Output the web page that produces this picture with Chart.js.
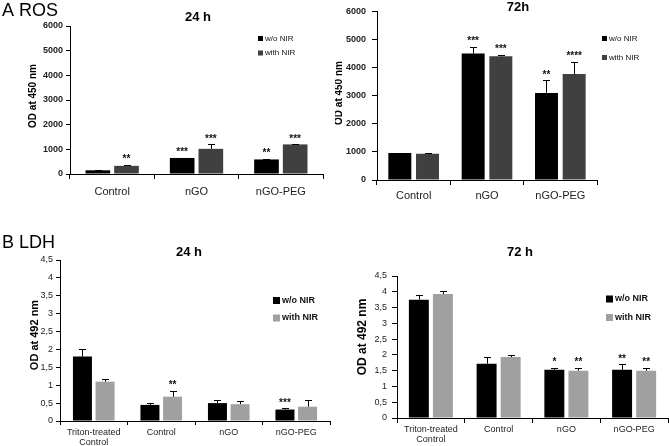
<!DOCTYPE html>
<html><head><meta charset="utf-8">
<script src="https://cdn.jsdelivr.net/npm/chart.js@4/dist/chart.umd.min.js"></script>
<style>
html,body{margin:0;padding:0;background:#fff}
body{width:669px;height:446px;position:relative;overflow:hidden}
canvas{position:absolute}
</style></head><body>
<canvas id="a24" width="335" height="205" style="left:0;top:0"></canvas>
<canvas id="a72" width="334" height="205" style="left:335px;top:0"></canvas>
<canvas id="b24" width="335" height="241" style="left:0;top:205px"></canvas>
<canvas id="b72" width="334" height="241" style="left:335px;top:205px"></canvas>
<script>
// ---------- data ----------
const seriesNames = ['w/o NIR', 'with NIR'];

const rosCategories = ['Control', 'nGO', 'nGO-PEG'];
const rosTickLabels = ['0', '1000', '2000', '3000', '4000', '5000', '6000'];

const ros24Without = [150, 650, 590];
const ros24With = [330, 1020, 1200];
const ros24WithoutErr = [20, 0, 30];
const ros24WithErr = [40, 180, 10];
const ros24WithoutStars = ['', '***', '**'];
const ros24WithStars = ['**', '***', '***'];

const ros72Without = [960, 4500, 3100];
const ros72With = [930, 4400, 3770];
const ros72WithoutErr = [0, 250, 450];
const ros72WithErr = [20, 50, 430];
const ros72WithoutStars = ['', '***', '**'];
const ros72WithStars = ['', '***', '****'];

const ldhCategories = [['Triton-treated', 'Control'], 'Control', 'nGO', 'nGO-PEG'];
const ldhTickLabels = ['0', '0,5', '1', '1,5', '2', '2,5', '3', '3,5', '4', '4,5'];

const ldh24Without = [1.8, 0.45, 0.5, 0.32];
const ldh24With = [1.1, 0.68, 0.47, 0.4];
const ldh24WithoutErr = [0.2, 0.05, 0.08, 0.04];
const ldh24WithErr = [0.07, 0.17, 0.08, 0.18];
const ldh24WithoutStars = ['', '', '', '***'];
const ldh24WithStars = ['', '**', '', ''];

const ldh72Without = [3.75, 1.72, 1.53, 1.53];
const ldh72With = [3.93, 1.93, 1.5, 1.5];
const ldh72WithoutErr = [0.15, 0.21, 0.07, 0.17];
const ldh72WithErr = [0.09, 0.07, 0.1, 0.1];
const ldh72WithoutStars = ['', '', '*', '**'];
const ldh72WithStars = ['', '', '**', '**'];

// ---------- helpers ----------
const FONT = 'Arial, "Liberation Sans", sans-serif';

const overlay = {
  id: 'overlay',
  afterDatasetsDraw(chart, args, o) {
    const ctx = chart.ctx;
    const ys = chart.scales.y;
    ctx.save();
    // error bars + stars
    chart.data.datasets.forEach((ds, di) => {
      const meta = chart.getDatasetMeta(di);
      meta.data.forEach((bar, i) => {
        const v = ds.data[i], e = ds.errors[i];
        const topPx = ys.getPixelForValue(v + e);
        if (e > 0) {
          const x = Math.round(bar.x) + 0.5;
          ctx.strokeStyle = '#000';
          ctx.lineWidth = 1;
          ctx.beginPath();
          ctx.moveTo(x, bar.y);
          ctx.lineTo(x, Math.round(topPx) + 0.5);
          ctx.moveTo(x - o.cap / 2, Math.round(topPx) + 0.5);
          ctx.lineTo(x + o.cap / 2, Math.round(topPx) + 0.5);
          ctx.stroke();
        }
        const s = ds.stars[i];
        if (s) {
          ctx.fillStyle = '#111';
          ctx.font = 'bold 10px ' + FONT;
          ctx.textAlign = 'center';
          ctx.textBaseline = 'alphabetic';
          ctx.fillText(s, bar.x, topPx - 2.5);
        }
      });
    });
    // title
    ctx.fillStyle = '#000';
    ctx.font = 'bold 13px ' + FONT;
    ctx.textAlign = 'center';
    ctx.textBaseline = 'middle';
    ctx.fillText(o.title, o.titleX, o.titleY);
    // y axis title
    ctx.save();
    ctx.translate(o.yTitleX, o.yTitleY);
    ctx.rotate(-Math.PI / 2);
    ctx.font = 'bold ' + o.yTitleSize + 'px ' + FONT;
    ctx.fillText(o.yTitle, 0, 0);
    ctx.restore();
    // legend
    chart.data.datasets.forEach((ds, di) => {
      const ly = o.legY[di];
      ctx.fillStyle = ds.backgroundColor;
      ctx.fillRect(o.legX, ly - o.legBox / 2, o.legBox, o.legBox);
      ctx.fillStyle = '#111';
      ctx.font = o.legFont + ' ' + FONT;
      ctx.textAlign = 'left';
      ctx.textBaseline = 'middle';
      ctx.fillText(ds.label, o.legX + o.legBox + 2, ly);
    });
    // panel letter
    if (o.panel) {
      ctx.fillStyle = '#000';
      ctx.font = '18px ' + FONT;
      ctx.textAlign = 'left';
      ctx.textBaseline = 'alphabetic';
      ctx.fillText(o.panel, 2, o.panelY);
    }
    ctx.restore();
  }
};

function makeChart(id, cfg) {
  new Chart(document.getElementById(id), {
    type: 'bar',
    data: {
      labels: cfg.labels,
      datasets: [
        { label: seriesNames[0], data: cfg.d1, errors: cfg.e1, stars: cfg.s1,
          backgroundColor: '#000000', categoryPercentage: cfg.cat, barPercentage: cfg.bar },
        { label: seriesNames[1], data: cfg.d2, errors: cfg.e2, stars: cfg.s2,
          backgroundColor: cfg.grey, categoryPercentage: cfg.cat, barPercentage: cfg.bar }
      ]
    },
    options: {
      responsive: false,
      devicePixelRatio: 1,
      animation: false,
      layout: { padding: cfg.pad },
      plugins: { legend: { display: false }, tooltip: { enabled: false }, title: { display: false },
        overlay: cfg.ov },
      scales: {
        x: {
          grid: { drawOnChartArea: false, drawTicks: true, tickLength: cfg.xTick, color: '#000', offset: true },
          border: { color: '#000', width: 1 },
          ticks: { color: '#222', font: cfg.xFont, padding: cfg.xPad, maxRotation: 0, autoSkip: false },
          afterFit: s => { s.height = cfg.xH; }
        },
        y: {
          min: 0, max: cfg.max,
          grid: { drawOnChartArea: false, drawTicks: true, tickLength: cfg.yTick, color: '#000' },
          border: { color: '#000', width: 1 },
          ticks: { stepSize: cfg.step, color: '#222', font: cfg.yFont, padding: cfg.yPad,
            callback: (v, i) => cfg.tickLabels[i] },
          afterFit: s => { s.width = cfg.yW; }
        }
      }
    },
    plugins: [overlay]
  });
}

makeChart('a24', {
  labels: rosCategories, d1: ros24Without, d2: ros24With, e1: ros24WithoutErr, e2: ros24WithErr,
  s1: ros24WithoutStars, s2: ros24WithStars, grey: '#404040', cat: 0.68, bar: 0.86,
  pad: { left: 0, top: 26, right: 12, bottom: 0 }, max: 6000, step: 1000, tickLabels: rosTickLabels,
  xH: 31, yW: 70, xTick: 5, yTick: 4, xPad: 6, yPad: 3,
  xFont: { family: FONT, size: 11 }, yFont: { family: FONT, size: 9, weight: 'bold' },
  ov: { cap: 7, title: '24 h', titleX: 198, titleY: 17, yTitle: 'OD at 450 nm', yTitleX: 33, yTitleY: 96,
    yTitleSize: 10, legX: 258, legY: [38.5, 53], legBox: 5, legFont: '8px', panel: 'A ROS', panelY: 16 }
});

makeChart('a72', {
  labels: rosCategories, d1: ros72Without, d2: ros72With, e1: ros72WithoutErr, e2: ros72WithErr,
  s1: ros72WithoutStars, s2: ros72WithStars, grey: '#404040', cat: 0.755, bar: 0.83,
  pad: { left: 0, top: 7, right: 72, bottom: 0 }, max: 6000, step: 1000, tickLabels: rosTickLabels,
  xH: 25, yW: 42, xTick: 5, yTick: 5, xPad: 4, yPad: 6,
  xFont: { family: FONT, size: 11 }, yFont: { family: FONT, size: 9, weight: 'bold' },
  ov: { cap: 7, title: '72h', titleX: 183, titleY: 7, yTitle: 'OD at 450 nm', yTitleX: 4, yTitleY: 93,
    yTitleSize: 10, legX: 267, legY: [38.5, 57.5], legBox: 5, legFont: '8px' }
});

makeChart('b24', {
  labels: ldhCategories, d1: ldh24Without, d2: ldh24With, e1: ldh24WithoutErr, e2: ldh24WithErr,
  s1: ldh24WithoutStars, s2: ldh24WithStars, grey: '#a0a0a0', cat: 0.67, bar: 0.84,
  pad: { left: 0, top: 55, right: 5, bottom: 0 }, max: 4.5, step: 0.5, tickLabels: ldhTickLabels,
  xH: 25, yW: 60, xTick: 4, yTick: 4, xPad: 2, yPad: 3,
  xFont: { family: FONT, size: 9, lineHeight: 1.15 }, yFont: { family: FONT, size: 9 },
  ov: { cap: 7, title: '24 h', titleX: 189, titleY: 47, yTitle: 'OD at 492 nm', yTitleX: 35, yTitleY: 130,
    yTitleSize: 11, legX: 273, legY: [95.5, 113], legBox: 7, legFont: 'bold 9px', panel: 'B LDH', panelY: 43 }
});

makeChart('b72', {
  labels: ldhCategories, d1: ldh72Without, d2: ldh72With, e1: ldh72WithoutErr, e2: ldh72WithErr,
  s1: ldh72WithoutStars, s2: ldh72WithStars, grey: '#a0a0a0', cat: 0.71, bar: 0.83,
  pad: { left: 0, top: 71, right: 1, bottom: 0 }, max: 4.5, step: 0.5, tickLabels: ldhTickLabels,
  xH: 28, yW: 62, xTick: 5, yTick: 5, xPad: 1, yPad: 5,
  xFont: { family: FONT, size: 9, lineHeight: 1.15 }, yFont: { family: FONT, size: 9 },
  ov: { cap: 7, title: '72 h', titleX: 185, titleY: 47, yTitle: 'OD at 492 nm', yTitleX: 28, yTitleY: 132,
    yTitleSize: 12, legX: 271, legY: [94, 112.5], legBox: 7, legFont: 'bold 9px' }
});
</script>
</body></html>
